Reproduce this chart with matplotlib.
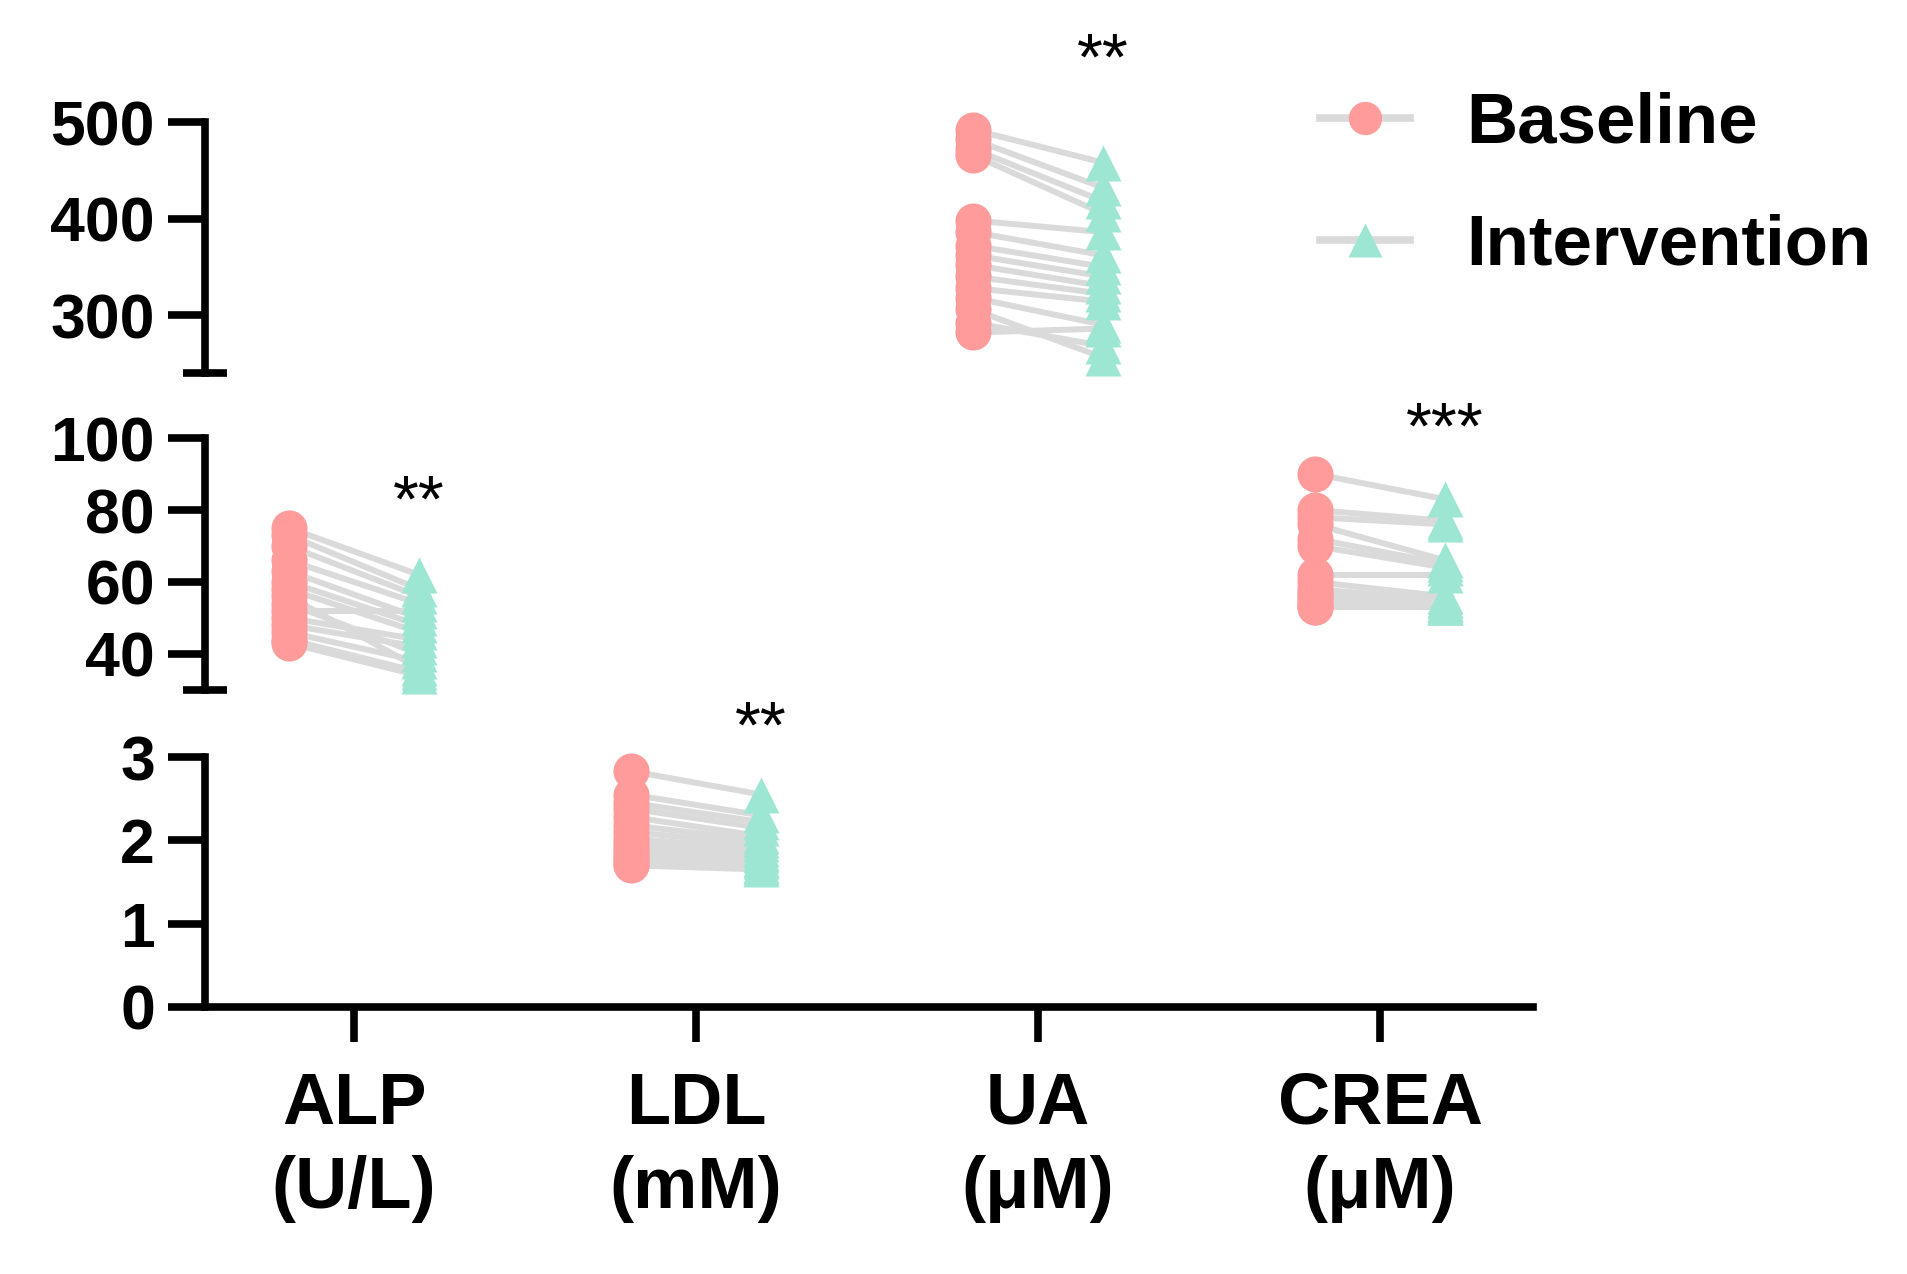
import matplotlib.pyplot as plt
from matplotlib.lines import Line2D

plt.rcParams["font.family"] = ["Liberation Sans", "DejaVu Sans"]
plt.rcParams["font.weight"] = "bold"

# categories in x order, with the panel each one lives in
CATEGORIES = ["ALP\n(U/L)", "LDL\n(mM)", "UA\n(μM)", "CREA\n(μM)"]
SIGNIF = ["**", "**", "**", "***"]
STAR_Y = [81.5, 3.32, 562, 101.7]

# paired subject values
ALP_BASE = [75, 73, 70, 66, 63, 60, 58, 56, 54, 52, 50, 48, 46, 44, 43]
ALP_INT = [62, 58, 56, 54, 50, 48, 46, 36, 40, 52, 44, 42, 38, 35, 34]
LDL_BASE = [2.83, 2.55, 2.45, 2.38, 2.28, 2.18, 2.10, 2.02, 1.96, 1.90, 1.85, 1.80, 1.76, 1.72, 1.70]
LDL_INT = [2.55, 2.30, 2.22, 2.15, 2.05, 2.00, 1.95, 1.90, 1.85, 1.82, 1.78, 1.75, 1.70, 1.68, 1.65]
UA_BASE = [492, 482, 472, 466, 398, 386, 372, 362, 352, 340, 328, 318, 306, 292, 282]
UA_INT = [458, 432, 418, 405, 386, 362, 350, 340, 330, 322, 314, 290, 256, 268, 286]
CREA_BASE = [90, 80, 78, 76, 72, 70, 62, 60, 58, 57, 56, 55, 54, 53, 53]
CREA_INT = [83, 77, 76, 66, 65, 64, 62, 56, 55, 55, 54, 54, 53, 53, 53]

PINK = "#FF9B9B"
TEAL = "#9DE6D3"
GRAY = "#DADADA"
OFFSET = 0.19
LW = 5.5

fig = plt.figure(figsize=(19.08, 12.74), dpi=100)
left, width = 0.1074, 0.6961
ax_top = fig.add_axes([left, 0.7072, width, 0.1970])
ax_mid = fig.add_axes([left, 0.4584, width, 0.1978])
ax_bot = fig.add_axes([left, 0.2096, width, 0.1962])


def draw_pairs(ax, xpos, base, after):
    for b, a in zip(base, after):
        ax.plot([xpos - OFFSET, xpos + OFFSET], [b, a], color=GRAY, lw=4.3,
                solid_capstyle="butt", zorder=1, clip_on=False)
    ax.plot([xpos - OFFSET] * len(base), base, ls="none", marker="o", ms=26,
            mfc=PINK, mec="none", zorder=2, clip_on=False)
    ax.plot([xpos + OFFSET] * len(after), after, ls="none", marker="^", ms=26,
            mfc=TEAL, mec="none", zorder=3, clip_on=False)


panels = [
    (ax_top, (240, 500), [300, 400, 500], [240], None),
    (ax_mid, (30, 100), [40, 60, 80, 100], [30, 100], 100),
    (ax_bot, (0, 3), [0, 1, 2, 3], [3], 3),
]
for ax, ylim, majors, minors, cap_only in panels:
    ax.set_xlim(-0.436, 3.447)
    ax.set_ylim(*ylim)
    for side in ("top", "right"):
        ax.spines[side].set_visible(False)
    ax.spines["left"].set_linewidth(LW)
    ax.spines["bottom"].set_linewidth(LW)
    ax.set_yticks(majors)
    ax.set_yticks(minors, minor=True)
    ax.tick_params(axis="y", which="major", direction="out", length=27,
                   width=LW, pad=9, labelsize=45)
    ax.tick_params(axis="y", which="minor", direction="inout", length=31,
                   width=LW)
    if cap_only is not None:
        for t in ax.yaxis.get_major_ticks():
            if abs(t.get_loc() - cap_only) < 1e-9:
                t.tick1line.set_visible(False)
    if ax is not ax_bot:
        ax.spines["bottom"].set_visible(False)
        ax.set_xticks([])

ax_bot.set_xticks(range(len(CATEGORIES)))
ax_bot.set_xticklabels(CATEGORIES, linespacing=1.3)
ax_bot.tick_params(axis="x", direction="out", length=25, width=LW, pad=21,
                   labelsize=52)

draw_pairs(ax_mid, 0, ALP_BASE, ALP_INT)
draw_pairs(ax_bot, 1, LDL_BASE, LDL_INT)
draw_pairs(ax_top, 2, UA_BASE, UA_INT)
draw_pairs(ax_mid, 3, CREA_BASE, CREA_INT)

star_axes = [ax_mid, ax_bot, ax_top, ax_mid]
for i, (ax, s, y) in enumerate(zip(star_axes, SIGNIF, STAR_Y)):
    ax.text(i + OFFSET, y, s, ha="center", va="center", fontsize=48,
            fontweight="normal", clip_on=False)

handles = [
    Line2D([], [], color=GRAY, lw=LW, marker="o", ms=24, mfc=PINK, mec="none"),
    Line2D([], [], color=GRAY, lw=LW, marker="^", ms=24, mfc=TEAL, mec="none"),
]
fig.legend(handles, ["Baseline", "Intervention"], loc="upper left",
           bbox_to_anchor=(0.673, 0.956), frameon=False, fontsize=51,
           handlelength=1.28, handletextpad=0.79, labelspacing=0.79,
           borderpad=0)

fig.savefig("out.png", dpi=100)
